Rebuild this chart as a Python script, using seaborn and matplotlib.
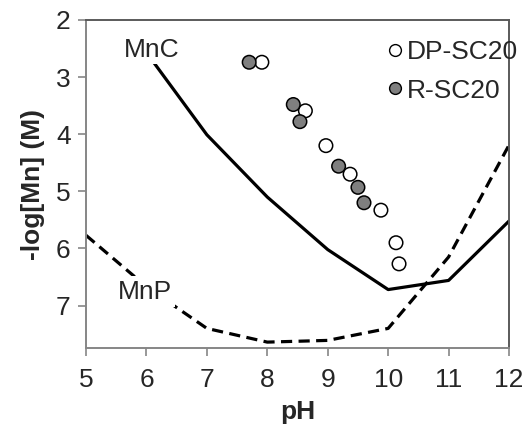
import matplotlib
matplotlib.use('Agg')
import matplotlib.pyplot as plt
import seaborn as sns
import pandas as pd
from matplotlib.lines import Line2D

# model curves
ph_curve = [6, 7, 8, 9, 10, 11, 12]
mnc = [2.57, 4.01, 5.10, 6.02, 6.72, 6.56, 5.52]
ph_mnp = [5, 6, 7, 8, 9, 10, 11, 12]
mnp = [5.77, 6.67, 7.40, 7.64, 7.61, 7.40, 6.15, 4.19]

# measured points
dp_ph = [7.91, 8.63, 8.97, 9.37, 9.88, 10.13, 10.18]
dp_val = [2.74, 3.59, 4.20, 4.70, 5.33, 5.90, 6.27]
r_ph = [7.70, 8.43, 8.54, 9.18, 9.50, 9.60]
r_val = [2.74, 3.48, 3.78, 4.56, 4.93, 5.20]

FS = 19

sns.set_style('white')
plt.rcParams['font.family'] = ['Liberation Sans', 'DejaVu Sans']

fig = plt.figure(figsize=(5.31, 4.28), dpi=100)
ax = fig.add_axes([0.162, 0.186, 0.7966, 0.7673])

df_c = pd.DataFrame({'pH': ph_curve, 'val': mnc})
df_p = pd.DataFrame({'pH': ph_mnp, 'val': mnp})
sns.lineplot(data=df_c, x='pH', y='val', ax=ax, color='black', lw=2.3, zorder=2)
sns.lineplot(data=df_p, x='pH', y='val', ax=ax, color='black', lw=2.3,
             linestyle=(0, (3.5, 2.0)), zorder=2)

df_pts = pd.DataFrame({
    'pH': dp_ph + r_ph,
    'val': dp_val + r_val,
    'sample': ['DP-SC20'] * len(dp_ph) + ['R-SC20'] * len(r_ph),
})
sns.scatterplot(data=df_pts, x='pH', y='val', hue='sample',
                palette={'DP-SC20': 'white', 'R-SC20': '#7f7f7f'},
                edgecolor='black', linewidth=1.1, s=95, ax=ax, zorder=4,
                legend=False)

# curve labels (white box hides the line behind)
ax.text(6.09, 2.53, 'MnC', fontsize=FS, ha='center', va='center', zorder=3,
        bbox=dict(facecolor='white', edgecolor='none', pad=1))
ax.text(5.97, 6.76, 'MnP', fontsize=FS, ha='center', va='center', zorder=3,
        bbox=dict(facecolor='white', edgecolor='none', pad=2.5))

handles = [
    Line2D([], [], marker='o', ls='', markerfacecolor='white', markeredgecolor='black',
           markersize=8.5, markeredgewidth=1.0),
    Line2D([], [], marker='o', ls='', markerfacecolor='#7f7f7f', markeredgecolor='black',
           markersize=8.5, markeredgewidth=1.0),
]
ax.legend(handles, ['DP-SC20', 'R-SC20'], loc='upper right', bbox_to_anchor=(1.033, 0.955),
          frameon=False, fontsize=FS, handletextpad=0.0, handlelength=0.9,
          labelspacing=0.55, borderaxespad=0.0, borderpad=0.2)

ax.set_xlim(5, 12)
ax.set_ylim(7.75, 2)
ax.set_xticks(range(5, 13))
ax.set_yticks(range(2, 8))
ax.tick_params(axis='both', labelsize=FS, length=6, width=1.2, color='#868686',
               direction='out', left=True, bottom=True)
ax.tick_params(axis='x', pad=8)
ax.tick_params(axis='y', pad=5)

for side in ['left', 'bottom']:
    ax.spines[side].set_color('#868686')
    ax.spines[side].set_linewidth(1.4)
for side in ['top', 'right']:
    ax.spines[side].set_color('#5a5a5a')
    ax.spines[side].set_linewidth(1.4)

ax.set_xlabel('pH', fontsize=FS, fontweight='bold', labelpad=6)
ax.set_ylabel('-log[Mn] (M)', fontsize=FS, fontweight='bold', labelpad=8)

fig.savefig('out.png', dpi=100)
